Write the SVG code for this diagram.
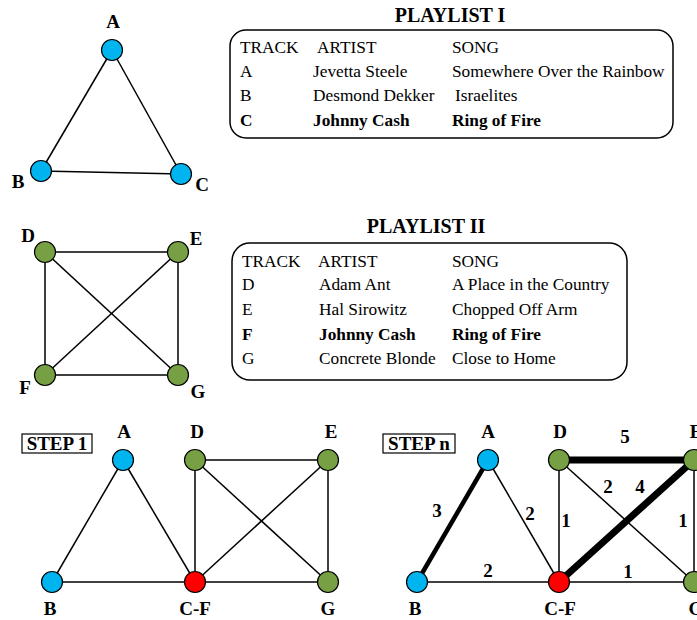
<svg xmlns="http://www.w3.org/2000/svg" width="697" height="620" viewBox="0 0 697 620">
<style>
text{font-family:"Liberation Serif","Times New Roman",serif;fill:#000}
.lbl{font-size:19px;font-weight:bold;text-anchor:middle}
.ttl{font-size:20px;font-weight:bold;text-anchor:middle}
.tb{font-size:17.3px}
.b{font-weight:bold}
.w{font-size:19px;font-weight:bold;text-anchor:middle}
.e{stroke:#000;stroke-width:1.5;fill:none}
.blue{fill:#00b4f0;stroke:#000;stroke-width:1.2}
.green{fill:#77a044;stroke:#000;stroke-width:1.2}
.red{fill:#ff0000;stroke:#000;stroke-width:1.2}
.box{fill:#fff;stroke:#000;stroke-width:1.5}
</style>
<rect width="697" height="620" fill="#fff"/>
<g id="connectors">
<line class="e" x1="112" y1="50" x2="41" y2="171"/>
<line class="e" x1="112" y1="50" x2="181" y2="174"/>
<line class="e" x1="41" y1="171" x2="181" y2="174"/>
<line class="e" x1="45" y1="252" x2="178" y2="252"/>
<line class="e" x1="45" y1="252" x2="45" y2="375"/>
<line class="e" x1="45" y1="252" x2="178" y2="375"/>
<line class="e" x1="178" y1="252" x2="45" y2="375"/>
<line class="e" x1="178" y1="252" x2="178" y2="375"/>
<line class="e" x1="45" y1="375" x2="178" y2="375"/>
<line class="e" x1="123" y1="460" x2="52" y2="582"/>
<line class="e" x1="123" y1="460" x2="195" y2="582"/>
<line class="e" x1="52" y1="582" x2="195" y2="582"/>
<line class="e" x1="195" y1="460" x2="328" y2="460"/>
<line class="e" x1="195" y1="460" x2="195" y2="582"/>
<line class="e" x1="195" y1="460" x2="328" y2="582"/>
<line class="e" x1="328" y1="460" x2="195" y2="582"/>
<line class="e" x1="328" y1="460" x2="328" y2="582"/>
<line class="e" x1="195" y1="582" x2="328" y2="582"/>
<line class="e" x1="488" y1="460" x2="417" y2="582" style="stroke-width:4.5"/>
<line class="e" x1="488" y1="460" x2="559" y2="582"/>
<line class="e" x1="417" y1="582" x2="559" y2="582"/>
<line class="e" x1="559" y1="460" x2="694" y2="460" style="stroke-width:7"/>
<line class="e" x1="559" y1="460" x2="559" y2="582"/>
<line class="e" x1="559" y1="460" x2="694" y2="582"/>
<line class="e" x1="694" y1="460" x2="559" y2="582" style="stroke-width:7"/>
<line class="e" x1="694" y1="460" x2="694" y2="582"/>
<line class="e" x1="559" y1="582" x2="694" y2="582"/>
<text class="w" x="437" y="517">3</text>
<text class="w" x="530" y="520">2</text>
<text class="w" x="488" y="577">2</text>
<text class="w" x="566" y="527">1</text>
<text class="w" x="625" y="443">5</text>
<text class="w" x="608" y="493">2</text>
<text class="w" x="640" y="493">4</text>
<text class="w" x="683" y="527">1</text>
<text class="w" x="628" y="578">1</text>
</g>
<g id="t-A"><circle class="blue" cx="112" cy="50" r="10.5"/><text class="lbl" x="113" y="28">A</text></g>
<g id="t-B"><circle class="blue" cx="41" cy="171" r="10.5"/><text class="lbl" x="18" y="188">B</text></g>
<g id="t-C"><circle class="blue" cx="181" cy="174" r="10.5"/><text class="lbl" x="202" y="191">C</text></g>
<g id="playlist1">
<text class="ttl" x="450" y="22">PLAYLIST I</text>
<rect class="box" x="230" y="30" width="443" height="108" rx="16"/>
<text class="tb" x="240" y="53">TRACK</text><text class="tb" x="317" y="53">ARTIST</text><text class="tb" x="452" y="53">SONG</text>
<text class="tb" x="240" y="77">A</text><text class="tb" x="313" y="77">Jevetta Steele</text><text class="tb" x="452" y="77">Somewhere Over the Rainbow</text>
<text class="tb" x="240" y="101">B</text><text class="tb" x="313" y="101">Desmond Dekker</text><text class="tb" x="455" y="101">Israelites</text>
<text class="tb b" x="240" y="126">C</text><text class="tb b" x="313" y="126">Johnny Cash</text><text class="tb b" x="452" y="126">Ring of Fire</text>
</g>
<g id="t-D"><circle class="green" cx="45" cy="252" r="10.5"/><text class="lbl" x="28" y="242">D</text></g>
<g id="t-E"><circle class="green" cx="178" cy="252" r="10.5"/><text class="lbl" x="196" y="245">E</text></g>
<g id="t-F"><circle class="green" cx="45" cy="375" r="10.5"/><text class="lbl" x="25" y="394">F</text></g>
<g id="t-G"><circle class="green" cx="178" cy="375" r="10.5"/><text class="lbl" x="198" y="398">G</text></g>
<g id="playlist2">
<text class="ttl" x="426" y="233">PLAYLIST II</text>
<rect class="box" x="232" y="243" width="395" height="137" rx="18"/>
<text class="tb" x="242" y="267">TRACK</text><text class="tb" x="318" y="267">ARTIST</text><text class="tb" x="452" y="267">SONG</text>
<text class="tb" x="242" y="290">D</text><text class="tb" x="319" y="290">Adam Ant</text><text class="tb" x="452" y="290">A Place in the Country</text>
<text class="tb" x="242" y="315">E</text><text class="tb" x="319" y="315">Hal Sirowitz</text><text class="tb" x="452" y="315">Chopped Off Arm</text>
<text class="tb b" x="242" y="340">F</text><text class="tb b" x="319" y="340">Johnny Cash</text><text class="tb b" x="452" y="340">Ring of Fire</text>
<text class="tb" x="242" y="364">G</text><text class="tb" x="319" y="364">Concrete Blonde</text><text class="tb" x="452" y="364">Close to Home</text>
</g>
<g id="step1-label"><rect x="22" y="434" width="70" height="19" fill="#fff" stroke="#000" stroke-width="1.2"/><text x="57" y="450" style="font-size:19px;font-weight:bold;text-anchor:middle">STEP 1</text></g>
<g id="s1-A"><circle class="blue" cx="123" cy="460" r="10.5"/><text class="lbl" x="124" y="438">A</text></g>
<g id="s1-B"><circle class="blue" cx="52" cy="582" r="10.5"/><text class="lbl" x="50" y="615">B</text></g>
<g id="s1-CF"><circle class="red" cx="195" cy="582" r="10.5"/><text class="lbl" x="195" y="615">C-F</text></g>
<g id="s1-D"><circle class="green" cx="195" cy="460" r="10.5"/><text class="lbl" x="197" y="438">D</text></g>
<g id="s1-E"><circle class="green" cx="328" cy="460" r="10.5"/><text class="lbl" x="331" y="438">E</text></g>
<g id="s1-G"><circle class="green" cx="328" cy="582" r="10.5"/><text class="lbl" x="328" y="615">G</text></g>
<g id="stepn-label"><rect x="383" y="434" width="72" height="19" fill="#fff" stroke="#000" stroke-width="1.2"/><text x="419" y="450" style="font-size:19px;font-weight:bold;text-anchor:middle">STEP n</text></g>
<g id="sn-A"><circle class="blue" cx="488" cy="460" r="10.5"/><text class="lbl" x="488" y="438">A</text></g>
<g id="sn-B"><circle class="blue" cx="417" cy="582" r="10.5"/><text class="lbl" x="415" y="615">B</text></g>
<g id="sn-CF"><circle class="red" cx="559" cy="582" r="10.5"/><text class="lbl" x="560" y="615">C-F</text></g>
<g id="sn-D"><circle class="green" cx="559" cy="460" r="10.5"/><text class="lbl" x="560" y="438">D</text></g>
<g id="sn-E"><circle class="green" cx="694" cy="460" r="10.5"/><text class="lbl" x="696" y="438">E</text></g>
<g id="sn-G"><circle class="green" cx="694" cy="582" r="10.5"/><text class="lbl" x="696" y="615">G</text></g>
</svg>
